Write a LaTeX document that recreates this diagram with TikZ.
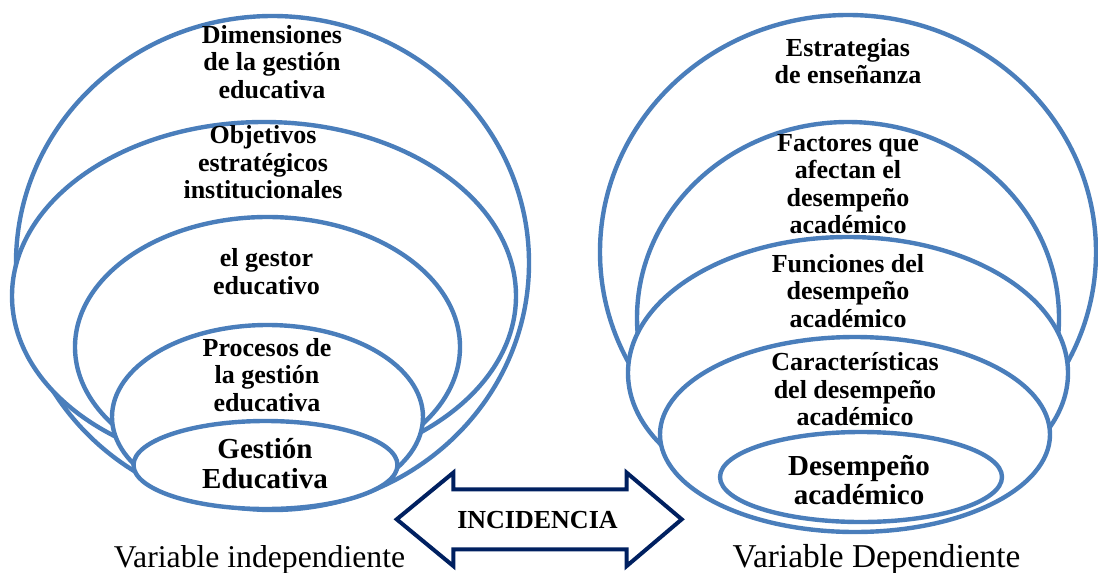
\documentclass[tikz,border=0pt]{standalone}
\usepackage{fontspec}
\setmainfont{Liberation Serif}
\definecolor{ringblue}{HTML}{4A7EBB}
\definecolor{arrownavy}{HTML}{002060}
\tikzset{
  ring/.style={draw=ringblue, line width=4.4pt, fill=white},
  lbl/.style={font=\bfseries\fontsize{26}{27.5}\selectfont, align=center, inner sep=0pt},
  biglbl/.style={lbl, font=\bfseries\fontsize{29}{29.3}\selectfont},
  varlbl/.style={anchor=base, inner sep=0pt}
}

\begin{document}
\begin{tikzpicture}[x=1pt,y=-1pt]
	\useasboundingbox (0,0) rectangle (1098,573);
	% variable independiente
	\filldraw[ring] (272.5,263) ellipse (256.5 and 247);
	\node[lbl] (dim) at (272,62) {Dimensiones\\de la gestión\\educativa};
	\filldraw[ring] (264,296) ellipse (252 and 174);
	\node[lbl] (obj) at (263,162.4) {Objetivos\\estratégicos\\institucionales};
	\filldraw[ring] (267.5,347) ellipse (192.5 and 130);
	\node[lbl] (gestor) at (266.5,271.6) {el gestor\\educativo};
	\filldraw[ring] (267.5,417) ellipse (155.5 and 92);
	\node[lbl] (proc) at (267,374.7) {Procesos de\\la gestión\\educativa};
	\filldraw[ring] (265.5,465) ellipse (132 and 44);
	\node[biglbl] (gest) at (265,463.6) {Gestión\\Educativa};
	% variable dependiente
	\filldraw[ring] (848,252) ellipse (248 and 237);
	\node[lbl] (estr) at (848,61.2) {Estrategias\\de enseñanza};
	\filldraw[ring] (848,318) ellipse (211 and 196);
	\node[lbl] (fact) at (848,184) {Factores que\\afectan el\\desempeño\\académico};
	\filldraw[ring] (848,373) ellipse (220 and 136);
	\node[lbl] (func) at (848,290.7) {Funciones del\\desempeño\\académico};
	\filldraw[ring] (855,434.5) ellipse (195 and 97.5);
	\node[lbl] (carac) at (855,389.4) {Características\\del desempeño\\académico};
	\filldraw[ring] (861,477) ellipse (141 and 45);
	\node[biglbl] (desem) at (859,479.7) {Desempeño\\académico};
	% flecha doble
	\draw[arrownavy, line width=4pt] (396.7,519.3) -- (453.3,472.7) -- (453.3,489.3) -- (626.7,489.3) -- (626.7,472.7) -- (681.7,519.3) -- (626.7,566) -- (626.7,549.3) -- (453.3,549.3) -- (453.3,566) -- cycle;
	\node[varlbl, font=\bfseries\fontsize{26}{28}\selectfont] (inc) at (537.5,528.3) {INCIDENCIA};
	\node[varlbl, font=\fontsize{31.7}{34}\selectfont] (vind) at (259.5,567) {Variable independiente};
	\node[varlbl, font=\fontsize{33.3}{35}\selectfont] (vdep) at (876.5,567) {Variable Dependiente};
\end{tikzpicture}
\end{document}
